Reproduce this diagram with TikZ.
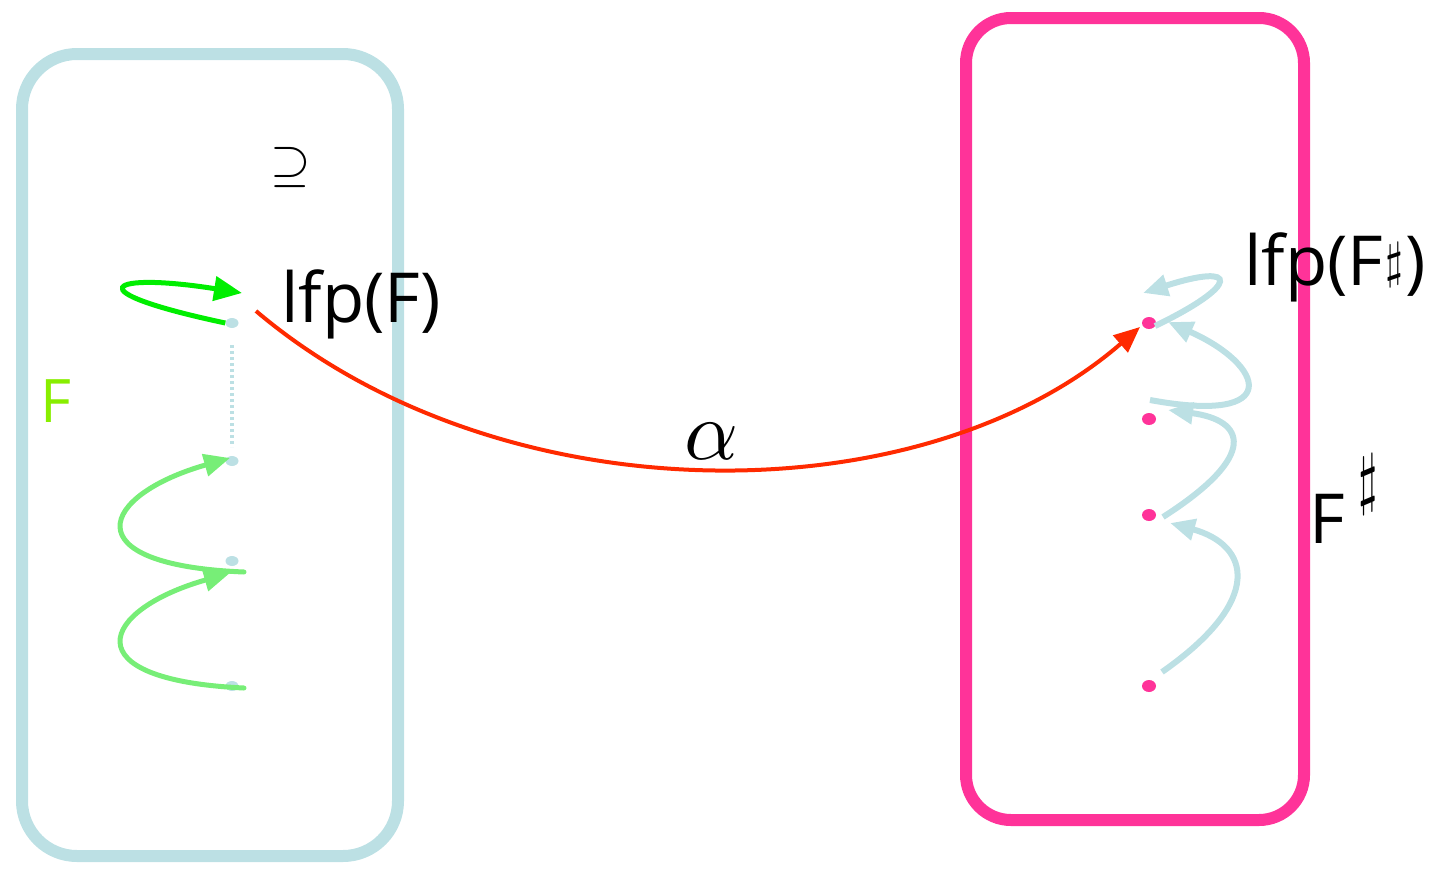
\documentclass[tikz,border=0pt]{standalone}
\usepackage{fontspec}
\usetikzlibrary{arrows.meta,shapes.geometric}
\newfontfamily\hand{Open Sans}
\definecolor{boxblue}{HTML}{BCE0E4}
\definecolor{boxpink}{HTML}{FF3399}
\definecolor{redarr}{HTML}{FF2A00}
\definecolor{gbright}{HTML}{00EE00}
\definecolor{gsoft}{HTML}{77EE77}
\definecolor{flabel}{HTML}{88EE00}
\newcommand{\mysharp}[2]{\scalebox{#1}[#2]{\fontsize{10}{12}\selectfont$\sharp$}}
\begin{document}
\begin{tikzpicture}[x=1pt,y=-1pt,
  lbox/.style={draw=boxblue,line width=12pt,rounded corners=55pt},
  pbox/.style={draw=boxpink,line width=12pt,rounded corners=45pt},
  bdot/.style={ellipse,fill=boxblue,inner sep=0pt,minimum width=13pt,minimum height=10pt},
  pdot/.style={ellipse,fill=boxpink,inner sep=0pt,minimum width=14pt,minimum height=12pt},
  lbl/.style={inner sep=0pt,font=\hand\fontsize{69}{69}\selectfont},
  garrow/.style={draw=gbright,line width=5pt,-{Triangle[length=28pt,width=24pt]}},
  sarrow/.style={draw=gsoft,line width=5pt,line cap=round,-{Triangle[length=26pt,width=22pt]}},
  barrow/.style={draw=boxblue,line width=6pt,-{Triangle[length=25pt,width=21pt]}},
  rarrow/.style={draw=redarr,line width=4pt,-{Triangle[length=26pt,width=22pt]}}]
\useasboundingbox (0,0) rectangle (1434,870);
% boxes
\draw[lbox] (22,54) rectangle (398,856);
\draw[pbox] (966,18) rectangle (1304,820);
% left labels
\node[inner sep=0pt] (sup) at (291,167) {\scalebox{5.2}{$\supseteq$}};
\node[lbl,anchor=base west] (lfp) at (281,322) {lfp(F)};
\node[lbl,text=flabel,font=\hand\fontsize{60}{60}\selectfont,anchor=base west] (F) at (40,422) {F};
% left dots
\node[bdot] (l1) at (232,323) {};
\node[bdot] (l2) at (232,461) {};
\node[bdot] (l3) at (232,561) {};
\node[bdot] (l4) at (232,686) {};
\coordinate (gtip) at (242,293);
\coordinate (s1a) at (244,572);
\coordinate (s1b) at (230,458);
\coordinate (s2a) at (244,688);
\coordinate (s2b) at (230,573);
\draw[boxblue,line width=4pt,dash pattern=on 3pt off 3pt] (232,345) -- (232,447);
\draw[garrow] (l1.west) .. controls (70,290) and (110,272) .. (gtip);
\draw[sarrow] (s1a) .. controls (70,565) and (100,495) .. (s1b);
\draw[sarrow] (s2a) .. controls (70,680) and (100,610) .. (s2b);
% right dots
\node[pdot] (p1) at (1149,323) {};
\node[pdot] (p2) at (1149,419) {};
\node[pdot] (p3) at (1149,515) {};
\node[pdot] (p4) at (1149,686) {};
\node[lbl,anchor=base west] (lfps) at (1244,285) {lfp(F\kern2pt\raisebox{8pt}{\mysharp{4.6}{5}}\kern2pt)};
\node[lbl,anchor=base west] (Fs) at (1309,543) {F\kern14pt\raisebox{42pt}{\mysharp{5}{6.8}}};
% right arrows
\draw[barrow] (1162,672) .. controls (1265,600) and (1250,545) .. (1170,523);
\draw[barrow] (1163,517) .. controls (1260,455) and (1245,420) .. (1168,410);
\draw[barrow] (1150,400) .. controls (1285,425) and (1265,365) .. (1168,322);
\draw[barrow] (1155,326) .. controls (1240,285) and (1240,262) .. (1143,293);
% alpha arrow
\coordinate (rstart) at (256,311);
\coordinate (rend) at (1140,327);
\draw[rarrow] (rstart) .. controls (500,518) and (920,518) .. (rend);
\node[inner sep=0pt] (alpha) at (712,441) {\scalebox{8.4}{$\alpha$}};
\end{tikzpicture}
\end{document}
